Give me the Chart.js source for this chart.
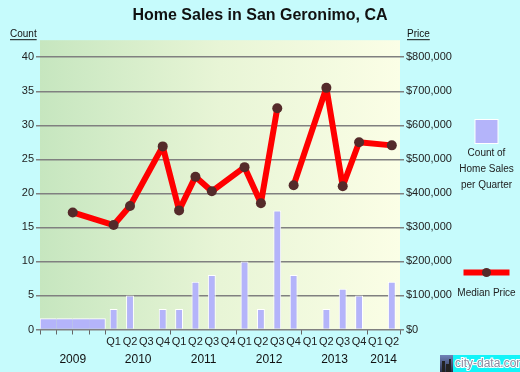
<!DOCTYPE html>
<html><head>
<meta charset="utf-8">
<title>Home Sales in San Geronimo, CA</title>
<script src="https://cdn.jsdelivr.net/npm/chart.js"></script>
<style>
  html, body { margin: 0; padding: 0; background: #c6fbfc; }
  #wrap { width: 520px; height: 372px; }
</style>
</head>
<body>
<div id="wrap"><canvas id="salesChart" width="520" height="372"></canvas></div>
<script>
// one entry per quarter slot; 2009 only has a yearly figure spread over its 4 slots
const slotYears = [2009, 2009, 2009, 2009, 2010, 2010, 2010, 2010, 2011, 2011, 2011, 2011,
                   2012, 2012, 2012, 2012, 2013, 2013, 2013, 2013, 2014, 2014];
const slotQuarters = ['', '', '', '', 'Q1', 'Q2', 'Q3', 'Q4', 'Q1', 'Q2', 'Q3', 'Q4',
                      'Q1', 'Q2', 'Q3', 'Q4', 'Q1', 'Q2', 'Q3', 'Q4', 'Q1', 'Q2'];
const years = [2009, 2010, 2011, 2012, 2013, 2014];

const salesCount = [null, null, null, null, 3, 5, null, 3, 3, 7, 8, null,
                    10, 3, 17.5, 8, null, 3, 6, 5, null, 7];
const yearlyCount2009 = 1.6;

const medianPrice = [null, null, null, null, 307000, 363000, null, 538000, 350000, 449000, 406000, null,
                     477000, 371000, 650000, 424000, null, 710000, 421000, 550000, null, 541000];
const yearlyPrice2009 = 344000;
const priceLineBreaks = ['2012 Q3'];   // no line drawn from this quarter to the next

const countTicks = [0, 5, 10, 15, 20, 25, 30, 35, 40];
const priceTicks = [0, 100000, 200000, 300000, 400000, 500000, 600000, 700000, 800000];
const countAxisMax = 42.5;
const priceAxisMax = 850000;

const slotLabel = i => slotYears[i] + ' ' + slotQuarters[i];
const isYearStart = i => slotQuarters[i] === '' || slotQuarters[i] === 'Q1';

// center of each year's group of slots
const yearCenters = years.map(y => {
  const idx = slotYears.map((v, i) => v === y ? i : -1).filter(i => i >= 0);
  return (idx[0] + idx[idx.length - 1]) / 2;
});

const pricePoints = [{ x: yearCenters[0], y: yearlyPrice2009 }];
medianPrice.forEach((p, i) => { if (p !== null) pricePoints.push({ x: i, y: p }); });

const GRID = '#808080';
const BAR = '#b4b4fa';
const DOT = '#542a2a';

Chart.defaults.font.family = "'Liberation Sans', Arial, sans-serif";
Chart.defaults.color = '#222';

const plotBackground = {
  id: 'plotBackground',
  beforeDraw(chart) {
    const { ctx, chartArea: a } = chart;
    ctx.save();
    ctx.fillStyle = '#c6fbfc';
    ctx.fillRect(0, 0, chart.width, chart.height);
    const g = ctx.createLinearGradient(a.left, 0, a.right, 0);
    g.addColorStop(0, '#c6e6bf');
    g.addColorStop(0.5, '#e8f5d6');
    g.addColorStop(1, '#fbfee6');
    ctx.fillStyle = g;
    ctx.fillRect(a.left, a.top, a.right - a.left, a.bottom - a.top);
    ctx.restore();
  }
};

const decorations = {
  id: 'decorations',
  afterDraw(chart) {
    const { ctx, chartArea: a } = chart;
    ctx.save();

    // axis captions
    ctx.font = "10px 'Liberation Sans', Arial, sans-serif";
    ctx.fillStyle = '#111';
    ctx.strokeStyle = '#111';
    ctx.lineWidth = 1;
    ctx.textBaseline = 'alphabetic';
    [['Count', 10], ['Price', a.right + 7]].forEach(([t, x]) => {
      ctx.textAlign = 'left';
      ctx.fillText(t, x, a.top - 3);
      const w = ctx.measureText(t).width;
      ctx.beginPath();
      ctx.moveTo(x, a.top - 0.5);
      ctx.lineTo(x + w, a.top - 0.5);
      ctx.stroke();
    });

    // legend
    const cx = a.right + 86.5;
    ctx.fillStyle = '#fff';
    ctx.fillRect(cx - 12, 119, 24, 25);
    ctx.fillStyle = BAR;
    ctx.fillRect(cx - 11, 120, 22, 23);

    ctx.fillStyle = '#222';
    ctx.textAlign = 'center';
    ctx.textBaseline = 'middle';
    ['Count of', 'Home Sales', 'per Quarter'].forEach((t, i) => ctx.fillText(t, cx, 153 + i * 16.3));

    ctx.strokeStyle = '#ff0000';
    ctx.lineWidth = 6;
    ctx.beginPath();
    ctx.moveTo(cx - 23, 272.5);
    ctx.lineTo(cx + 23, 272.5);
    ctx.stroke();
    ctx.fillStyle = DOT;
    ctx.beginPath();
    ctx.arc(cx, 272.5, 4.5, 0, Math.PI * 2);
    ctx.fill();
    ctx.fillStyle = '#222';
    ctx.fillText('Median Price', cx, 293);

    // watermark
    const wy = chart.height - 17;
    const sky = ctx.createLinearGradient(0, wy, 0, chart.height);
    sky.addColorStop(0, '#6f82b8');
    sky.addColorStop(1, '#2c3350');
    ctx.fillStyle = sky;
    ctx.fillRect(chart.width - 80, wy, 13, 17);
    ctx.fillStyle = '#222';
    ctx.fillRect(chart.width - 78, wy + 6, 3, 11);
    ctx.fillRect(chart.width - 74, wy + 9, 3, 8);
    ctx.fillRect(chart.width - 71, wy + 4, 2, 13);
    ctx.fillStyle = '#13f4f8';
    ctx.fillRect(chart.width - 67, wy, 67, 17);
    ctx.font = "12px 'Liberation Sans', Arial, sans-serif";
    ctx.textAlign = 'left';
    ctx.lineWidth = 2;
    ctx.strokeStyle = '#ffffff';
    ctx.strokeText('city-data.com', chart.width - 65, wy + 9);
    ctx.fillStyle = '#8a8aa0';
    ctx.fillText('city-data.com', chart.width - 65, wy + 9);

    ctx.restore();
  }
};

new Chart(document.getElementById('salesChart'), {
  type: 'bar',
  data: {
    labels: slotQuarters,
    datasets: [
      {
        type: 'line',
        label: 'Median Price',
        data: pricePoints,
        xAxisID: 'x2',
        yAxisID: 'y2',
        borderColor: '#ff0000',
        borderWidth: 6,
        borderJoinStyle: 'round',
        borderCapStyle: 'round',
        pointRadius: 5,
        pointHoverRadius: 5,
        pointBackgroundColor: DOT,
        pointBorderWidth: 0,
        segment: {
          borderColor: c => priceLineBreaks.includes(slotLabel(c.p0.parsed.x)) ? 'rgba(0,0,0,0)' : undefined
        },
        order: 0
      },
      {
        label: 'Count of Home Sales per Quarter',
        data: salesCount,
        xAxisID: 'x',
        yAxisID: 'y',
        backgroundColor: BAR,
        borderColor: '#ffffff',
        borderWidth: 1,
        barPercentage: 0.48,
        categoryPercentage: 1,
        grouped: false,
        order: 1
      },
      {
        label: '2009',
        data: slotYears.map(y => y === years[0] ? yearlyCount2009 : null),
        xAxisID: 'x',
        yAxisID: 'y',
        backgroundColor: BAR,
        borderColor: '#ffffff',
        borderWidth: c => ({
          top: 1, bottom: 0,
          left: c.dataIndex === 0 ? 1 : 0,
          right: c.dataIndex === 3 ? 1 : 0
        }),
        barPercentage: 1,
        categoryPercentage: 1,
        grouped: false,
        order: 2
      }
    ]
  },
  options: {
    responsive: false,
    animation: false,
    layout: { padding: 0 },
    plugins: {
      legend: { display: false },
      tooltip: { enabled: false },
      title: {
        display: true,
        text: 'Home Sales in San Geronimo, CA',
        color: '#111',
        font: { size: 16, weight: 'bold' },
        padding: { top: 6, bottom: 15 }
      }
    },
    scales: {
      x: {
        type: 'category',
        position: 'bottom',
        weight: 0,
        offset: true,
        grid: {
          offset: true,
          drawOnChartArea: false,
          drawTicks: true,
          tickLength: 5,
          lineWidth: 1,
          color: c => (c.index === undefined || isYearStart(c.index)) ? '#666' : 'rgba(0,0,0,0)'
        },
        border: { display: false },
        ticks: { autoSkip: false, maxRotation: 0, padding: 1, font: { size: 11 }, color: '#222' },
        afterFit: s => { s.height = 20; }
      },
      x2: {
        type: 'linear',
        position: 'bottom',
        weight: 1,
        offset: false,
        min: -0.5,
        max: slotYears.length - 0.5,
        grid: { display: false, drawTicks: false, offset: false },
        border: { display: false },
        afterBuildTicks: s => { s.ticks = yearCenters.map(v => ({ value: v })); },
        ticks: {
          autoSkip: false, maxRotation: 0, padding: 3,
          font: { size: 12 }, color: '#111',
          callback: (v, i) => String(years[i])
        },
        afterFit: s => { s.height = 22.5; }
      },
      y: {
        position: 'left',
        min: 0,
        max: countAxisMax,
        afterBuildTicks: s => { s.ticks = countTicks.map(v => ({ value: v })); },
        grid: { color: GRID, lineWidth: 1.5, tickLength: 4 },
        border: { display: false },
        ticks: { padding: 2, font: { size: 11 }, color: '#222' },
        afterFit: s => { s.width = 40; }
      },
      y2: {
        position: 'right',
        min: 0,
        max: priceAxisMax,
        afterBuildTicks: s => { s.ticks = priceTicks.map(v => ({ value: v })); },
        grid: { drawOnChartArea: false, color: GRID, lineWidth: 1.5, tickLength: 4 },
        border: { display: false },
        ticks: {
          padding: 2, font: { size: 11 }, color: '#222',
          callback: v => '$' + v.toLocaleString('en-US')
        },
        afterFit: s => { s.width = 120; }
      }
    }
  },
  plugins: [plotBackground, decorations]
});
</script>
</body></html>
